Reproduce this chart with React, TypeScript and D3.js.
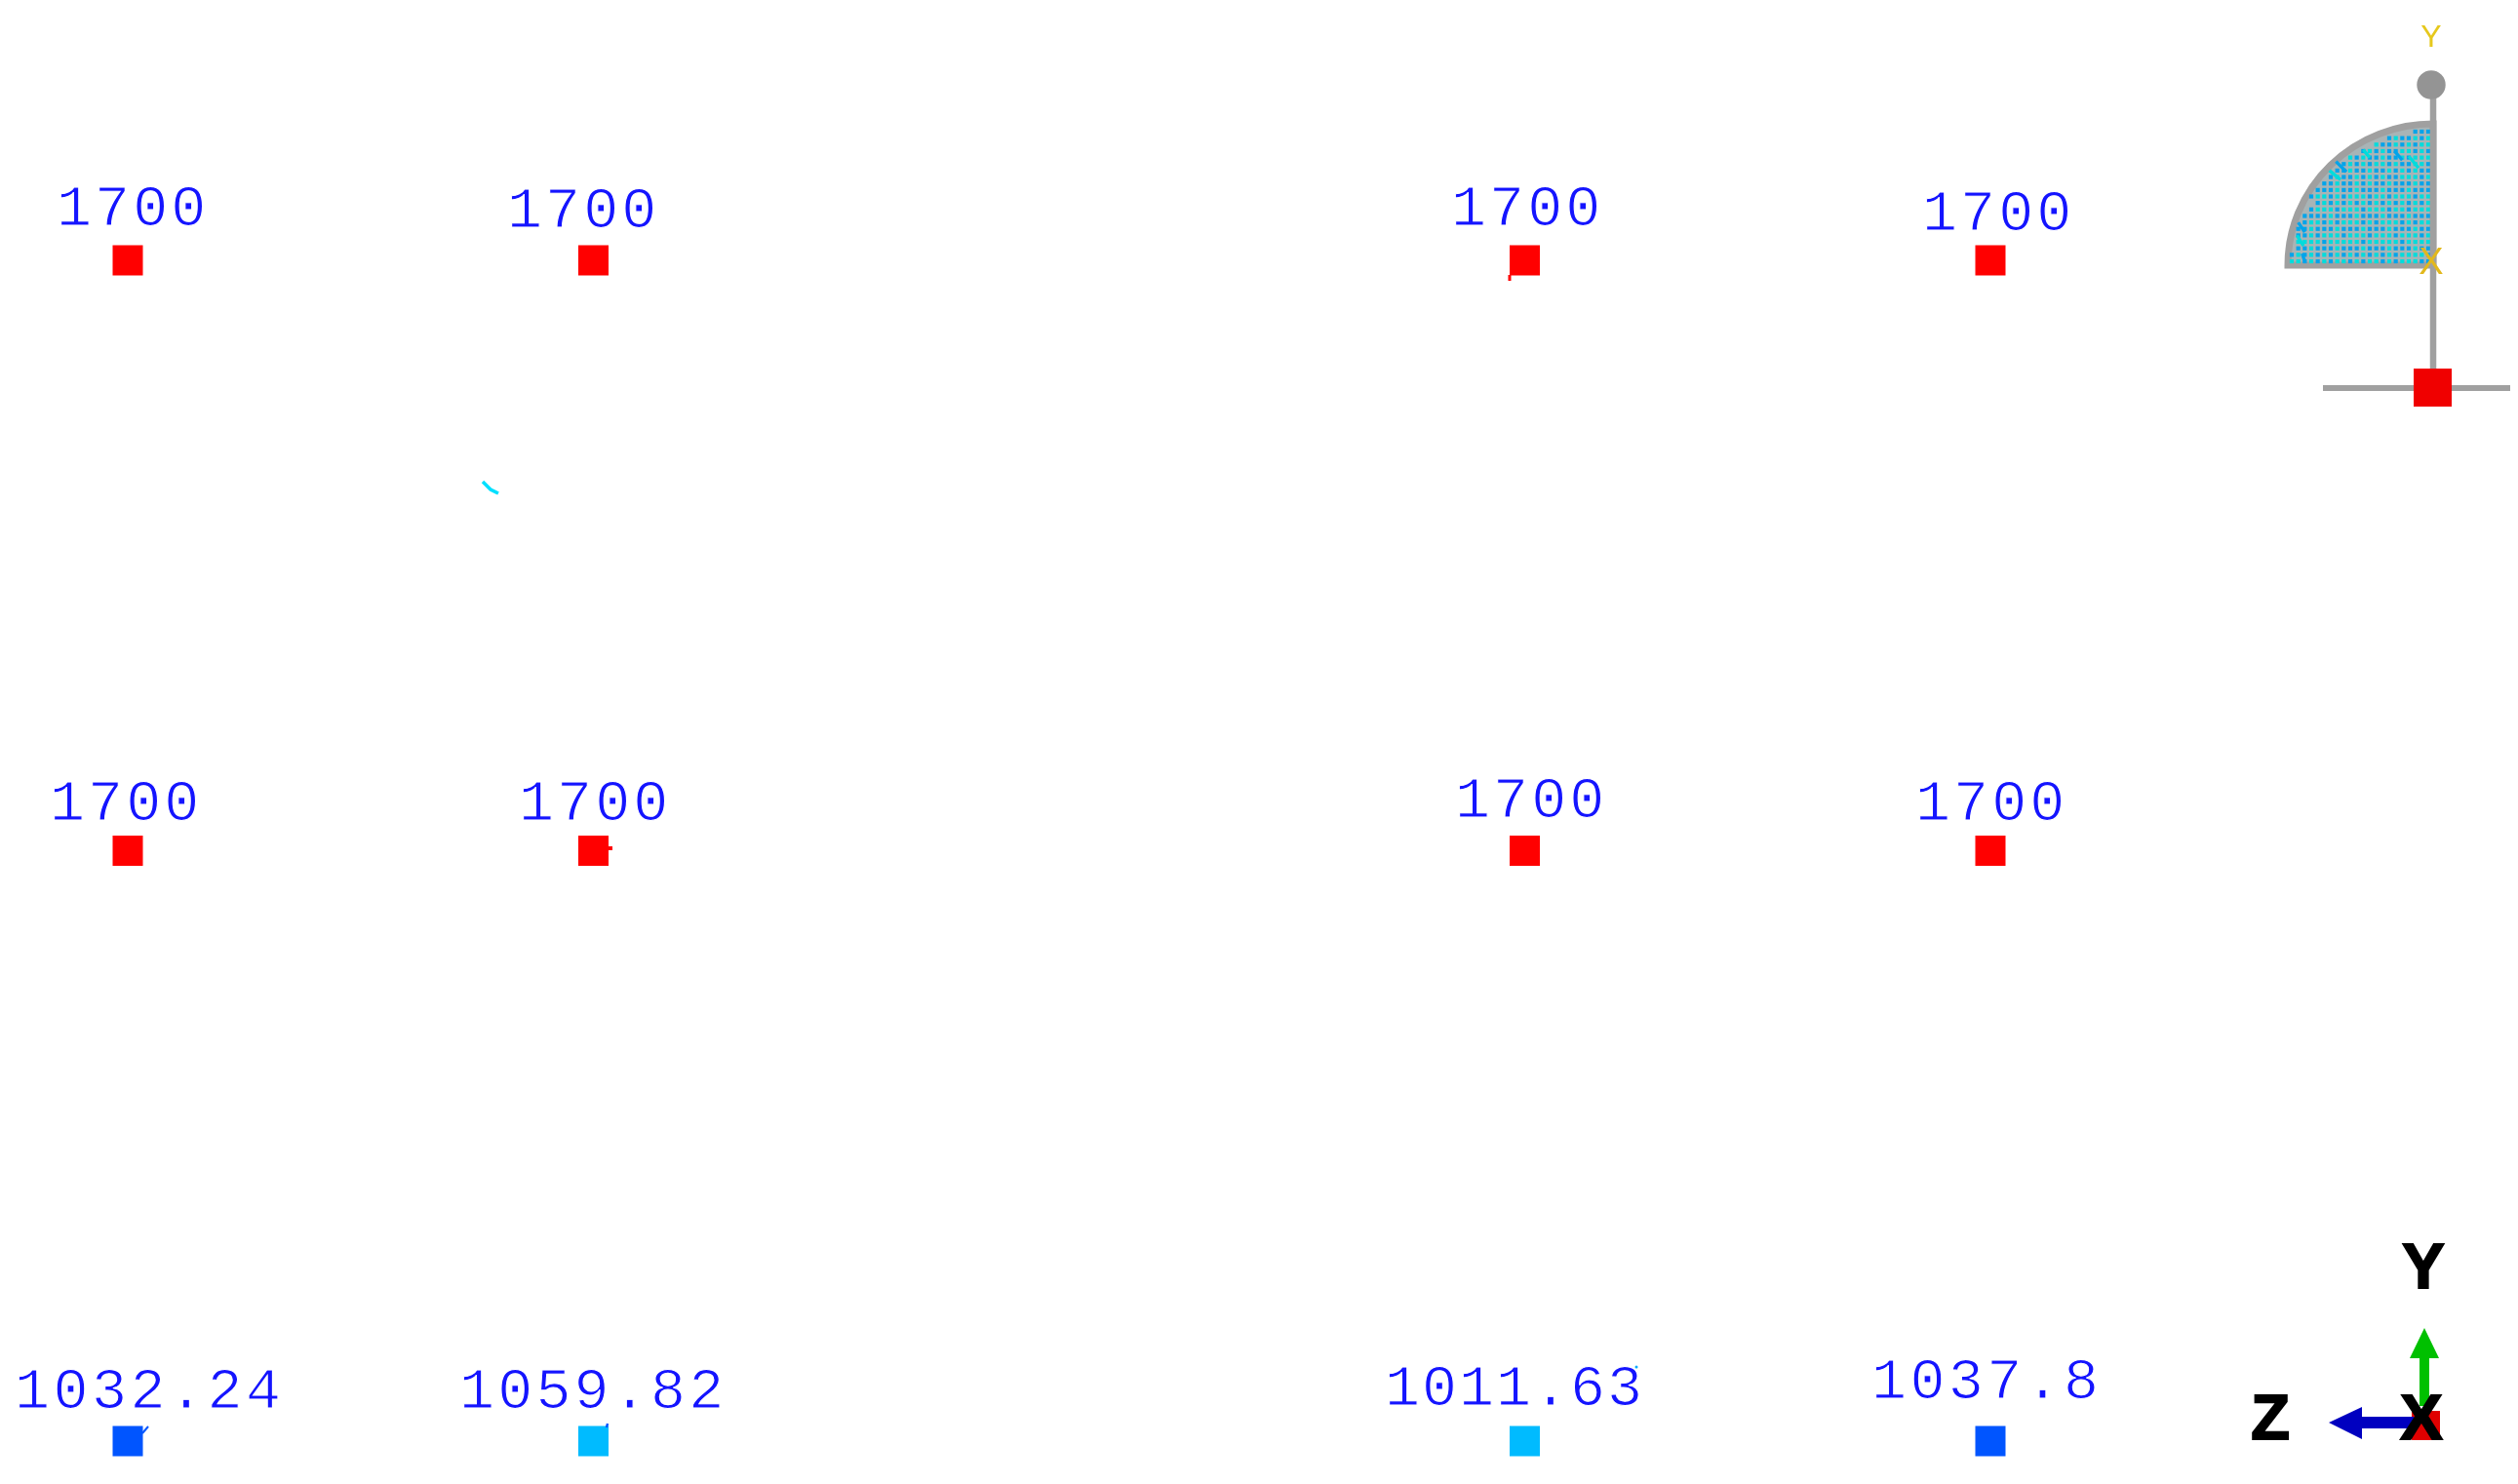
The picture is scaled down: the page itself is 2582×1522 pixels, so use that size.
import React from "react";
import * as d3 from "d3";

// nodal values, top row first
const columnStations = [0, 4, 12, 16];
const rowLevels = [10, 5, 0];
const topValues = ["1700", "1700", "1700", "1700"];
const midValues = ["1700", "1700", "1700", "1700"];
const baseValues = ["1032.24", "1059.82", "1011.63", "1037.8"];
const nodeBands = [
  ["red", "red", "red", "red"],
  ["red", "red", "red", "red"],
  ["blue", "sky", "sky", "blue"],
];

// where each label ended up relative to its node
const labelLeft = [
  [58, 520, 1488, 1971],
  [51, 532, 1492, 1964],
  [15, 471, 1420, 1919],
];
const labelBaseline = [
  [231, 233, 231, 236],
  [841, 841, 838, 841],
  [1444, 1444, 1441, 1434],
];
const labelPitch = [
  [39.1, 39.1, 39.1, 39.1],
  [39.1, 39.1, 39.1, 39.1],
  [39.5, 39.2, 38, 39.4],
];

// mesh of the inset, read row by row: b = blue node, c = cyan node
const meshRows = [
  "bbb",
  "cbcbbcb",
  "ccbcbcbbc",
  "bcbccbbcbcb",
  "cccbcbbcbbcbc",
  "bccbbcbccbcbcb",
  "bbcbcbcbbcbbcbb",
  "cbcccbbcbcbcbbcb",
  "bbcbbbcbbcbcbbcbb",
  "bbbcbbbcbbbcbbcbbb",
  "ccbcccbccbcccbcbccb",
  "cbcbcbcbcbcbcbcbcb",
  "cccbccbcccbcccbcccb",
  "bbbcbbbcbbbcbbbcbbbb",
  "ccbcbcccbcbcccbcbccb",
  "bbcbbbcbbbcbbbcbbbcbb",
  "cbcccbcccbcccbcccbcbb",
  "ccccbcccccbcccccbcccc",
  "bbcbbbcbbbcbbbcbbbcbb",
  "bccccbcbcbcbcbcbcbcbcb",
  "bbcccbcbccbcbccbcbcbcc",
];

const meshChains = [
  [[15.2, 6], [13.5, 7.4]],
  [[14.2, 4.6], [12.6, 6.2]],
  [[10, 2.8], [9, 4]],
  [[5.2, 3], [4, 4.4]],
  [[3, 3.8], [1.5, 5.6]],
  [[20, 14], [19, 15.5]],
  [[20.2, 16], [19.2, 17.6]],
  [[19.4, 18.8], [19, 20]],
];

const bandColor: Record<string, string> = {
  red: "#ff0000",
  blue: "#0055ff",
  sky: "#00bbff",
  b: "#06a4ea",
  c: "#02dcdc",
};

const labelFont = "'Liberation Mono', monospace";

const x = d3.scaleLinear().domain([0, 16]).range([131, 2041]);
const y = d3.scaleLinear().domain([0, 10]).range([1478, 267]);

const meshX = d3.scaleLinear().domain([0, 21]).range([2490, 2350]);
const meshY = d3.scaleLinear().domain([0, 20]).range([135, 268]);

const quarter = d3.arc()({
  innerRadius: 0,
  outerRadius: 1,
  startAngle: -Math.PI / 2,
  endAngle: 0,
}) as string;

const segment = d3.line<number[]>();

const arrow = (pts: number[][]) => segment(pts) + "Z";

const App = () => {
  const valueRows = [topValues, midValues, baseValues];
  const squareSize = 31;

  return (
    <svg
      width={2582}
      height={1522}
      viewBox="0 0 2582 1522"
      style={{ position: "absolute", left: 0, top: 0, display: "block", background: "#fff" }}
    >
      <defs>
        <filter id="soft" x="-5%" y="-5%" width="110%" height="110%">
          <feGaussianBlur stdDeviation="0.6" />
        </filter>
      </defs>

      {/* nodes and labels */}
      {rowLevels.map((level, r) =>
        columnStations.map((station, c) => (
          <g key={`${r}-${c}`}>
            <rect
              x={x(station) - squareSize / 2}
              y={y(level) - squareSize / 2}
              width={squareSize}
              height={squareSize}
              fill={bandColor[nodeBands[r][c]]}
            />
            <text
              x={labelLeft[r][c]}
              y={labelBaseline[r][c]}
              fontFamily={labelFont}
              fontSize={60}
              fill="#1414ff"
              stroke="#fff"
              strokeWidth={1.1}
              letterSpacing={labelPitch[r][c] - 36}
            >
              {valueRows[r][c]}
            </text>
          </g>
        ))
      )}

      {/* stray bits of the plot */}
      <path d={segment([[495, 494], [503, 502], [511, 506]]) as string} stroke="#00e0ff" strokeWidth={3.5} fill="none" />
      <path d={segment([[146, 1470], [152, 1463]]) as string} stroke="#0055ff" strokeWidth={2} fill="none" />
      <path d={segment([[622, 1464], [623, 1460]]) as string} stroke="#0055ff" strokeWidth={2.5} fill="none" />
      <path d={segment([[1548, 282], [1548, 288]]) as string} stroke="#ff0000" strokeWidth={3} fill="none" />
      <path d={segment([[624, 870], [628, 870]]) as string} stroke="#ff0000" strokeWidth={4} fill="none" />
      <circle cx={1678} cy={1402} r={1.5} fill="#00aaff" />

      {/* section inset */}
      <g filter="url(#soft)">
        <path
          d={quarter}
          transform="translate(2495,272) scale(149,145)"
          fill="#a8b4b6"
          stroke="#a0a0a0"
          strokeWidth={7}
          vectorEffect="non-scaling-stroke"
        />
        {meshRows.map((row, r) =>
          row.split("").map((band, c) => (
            <rect
              key={`${r}-${c}`}
              x={meshX(c) - 2.1}
              y={meshY(r) - 2.1}
              width={4.2}
              height={4.2}
              fill={bandColor[band]}
            />
          ))
        )}
        {meshChains.map((chain, i) => (
          <path
            key={i}
            d={segment(chain.map(([c, r]) => [meshX(c), meshY(r)])) as string}
            stroke={i % 2 ? "#06a4ea" : "#02dcdc"}
            strokeWidth={3.4}
            fill="none"
          />
        ))}
        <path d={segment([[2495, 90], [2495, 380]]) as string} stroke="#a0a0a0" strokeWidth={6.5} fill="none" />
        <path d={segment([[2382, 398], [2574, 398]]) as string} stroke="#a0a0a0" strokeWidth={6} fill="none" />
        <path d={d3.symbol(d3.symbolCircle, 680)() as string} transform="translate(2493,87)" fill="#949494" />
        <rect x={2475} y={378} width={39} height={39} fill="#f00000" />
        <text x={2493} y={48} textAnchor="middle" fontFamily="'Liberation Sans', sans-serif" fontSize={32} fill="#e6c81e">Y</text>
        <text x={2493} y={281} textAnchor="middle" fontFamily="'Liberation Sans', sans-serif" fontSize={38} fill="#e2b81e">X</text>
      </g>

      {/* global axes triad */}
      <g filter="url(#soft)">
        <rect x={2473} y={1447} width={29} height={30} fill="#e00000" />
        <path d={arrow([[2481, 1442], [2481, 1393], [2471, 1393], [2486, 1362], [2501, 1393], [2491, 1393], [2491, 1442]]) as string} fill="#00c000" />
        <path d={arrow([[2475, 1453], [2422, 1453], [2422, 1443], [2388, 1459], [2422, 1476], [2422, 1465], [2475, 1465]]) as string} fill="#0000c0" />
        <g fontFamily="'Liberation Sans', sans-serif" fontWeight={700} fontSize={65} fill="#000" stroke="#000" strokeWidth={2}>
          <text x={2485} y={1321} textAnchor="middle">Y</text>
          <text x={2328} y={1476} textAnchor="middle">Z</text>
          <text x={2483} y={1476} textAnchor="middle">X</text>
        </g>
      </g>
    </svg>
  );
};

export default App;
